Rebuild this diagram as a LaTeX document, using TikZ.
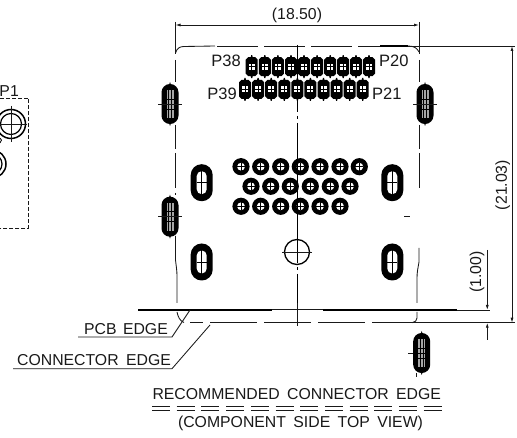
\documentclass[tikz,border=0pt]{standalone}
\usepackage{fontspec}
\setmainfont{Liberation Sans}
\usetikzlibrary{arrows.meta}
\tikzset{
  cadtext/.style={font=\fontsize{15.8}{18}\selectfont,inner sep=0pt,text=black!90},
  pintext/.style={font=\fontsize{16.5}{18}\selectfont,inner sep=0pt,text=black!90},
  thin line/.style={line width=0.85pt,black!90},
  thick edge/.style={line width=1.6pt},
  dim/.style={line width=0.8pt,black!90,{Latex[length=5pt,width=3pt]}-{Latex[length=5pt,width=3pt]}},
  outline/.style={line width=0.85pt,black!90,dash pattern=on 41pt off 6pt},
}
\newcommand{\smallslot}[2]{%
  \fill[black,rounded corners=8.4pt] (#1-8.5,#2-20) rectangle (#1+8.5,#2+20);
  \fill[black] (#1,#2-22) -- (#1+1,#2-19) -- (#1-1,#2-19) -- cycle (#1,#2+22) -- (#1+1,#2+19) -- (#1-1,#2+19) -- cycle;
  \fill[black!35] (#1-3.5,#2-14) rectangle (#1+3.5,#2+14);
  \draw[line width=0.8pt,black] (#1-1.4,#2-14) -- (#1-1.4,#2+14) (#1+1.4,#2-14) -- (#1+1.4,#2+14);
  \draw[line width=0.6pt,black] (#1-3.5,#2-5) -- (#1+3.5,#2-5) (#1-3.5,#2) -- (#1+3.5,#2) (#1-3.5,#2+5) -- (#1+3.5,#2+5);
}
\newcommand{\bigslot}[2]{%
  \fill[black,rounded corners=10.9pt] (#1-11,#2-18.5) rectangle (#1+11,#2+18.5);
  \fill[white,rounded corners=4.9pt] (#1-5,#2-11.5) rectangle (#1+5,#2+11.5);
  \draw[line width=0.8pt] (#1,#2-12) -- (#1,#2+12) (#1-5,#2) -- (#1+5,#2);
}
\newcommand{\pinpad}[2]{%
  \fill[black] (#1-1,#2-9.5) -- (#1-0.5,#2-11.5) -- (#1+0.5,#2-11.5) -- (#1+1,#2-9.5) -- (#1+3.5,#2-9.5) -- (#1+6,#2-7) -- (#1+6,#2+7) -- (#1+3.5,#2+9.5) -- (#1+1,#2+9.5) -- (#1+0.5,#2+11.5) -- (#1-0.5,#2+11.5) -- (#1-1,#2+9.5) -- (#1-3.5,#2+9.5) -- (#1-6,#2+7) -- (#1-6,#2-7) -- (#1-3.5,#2-9.5) -- cycle;
  \fill[white] (#1-3,#2-3) rectangle (#1+3,#2+3);
  \draw[line width=1pt,black] (#1,#2-3.2) -- (#1,#2+3.2) (#1-3.2,#2) -- (#1+3.2,#2);
}
\newcommand{\roundpad}[2]{%
  \fill[black] (#1,#2) circle[radius=8.6];
  \fill[white] (#1,#2) circle[radius=3.9];
  \draw[line width=1pt,black] (#1,#2-4) -- (#1,#2+4) (#1-4,#2) -- (#1+4,#2);
}
\begin{document}
\begin{tikzpicture}[x=1pt,y=-1pt]
\useasboundingbox (0,0) rectangle (517,438);
\fill[white] (0,0) rectangle (517,438);
% coordinates
\coordinate (pcbL) at (138,310);
\coordinate (pcbR) at (456.6,310);
% top dimension
\draw[thin line] (175.5,22) -- (175.5,54);
\draw[thin line] (419,22) -- (419,54);
\draw[dim] (175.5,25) -- (419,25);
\node[cadtext] (wlabel) at (297,15) {(18.50)};
% outline
\draw[thin line] (175.5,53) .. controls (177,48) and (180,46.5) .. (184,46.5) -- (215,46);
\draw[outline] (217,46) -- (380,46);
\draw[thick edge] (380,46) -- (408,46);
\draw[thin line] (408,46) .. controls (414,46) and (417,48) .. (419,52);
\draw[thin line] (408,46) -- (515,46);
\draw[thin line] (175.5,60) -- (175.5,82);
\draw[thin line,dash pattern=on 24pt off 4pt on 35pt off 5pt] (175.5,125) -- (175.5,195);
\draw[thin line] (175.5,236) -- (175.5,260) .. controls (176,265) and (177,270) .. (177,276) -- (177,303);
\draw[thin line] (419,60) -- (419,82);
\draw[thin line,dash pattern=on 24pt off 4pt on 35pt off 5pt] (419,125) -- (419,191);
\draw[thin line] (419,248) -- (419,262) .. controls (418,268) and (417,272) .. (417,278) -- (417,303);
\draw[thin line] (177,312) .. controls (178,317) and (180,321) .. (184,322.5);
\draw[thin line] (417,312) -- (417,318) .. controls (417,321) and (415,322) .. (412,322.7);
% centre line
\draw[line width=0.9pt,dash pattern=on 67pt off 4pt on 3pt off 4pt on 62pt off 4pt on 3pt off 4pt] (297,45) -- (297,325);
% pads
\foreach \x in {251.7,264.8,277.9,291,304,317.1,330.2,343.2,356,369}{\pinpad{\x}{66.7}}
\foreach \x in {245,258.1,271.2,284.3,297.4,310.4,323.5,336.6,349.7,362.7}{\pinpad{\x}{89.3}}
\foreach \x in {241,260.7,280.7,300.3,320,340,359.3}{\roundpad{\x}{166.7}}
\foreach \x in {251,270.7,290.3,310.3,330.3,350}{\roundpad{\x}{186.3}}
\foreach \x in {241,260.7,280.7,300.3,320,340}{\roundpad{\x}{206.3}}
\draw[line width=0.9pt] (297,150) -- (297,225);
% slots
\bigslot{201.7}{182.7}
\bigslot{392.3}{182.7}
\bigslot{201.7}{262}
\bigslot{392.3}{262}
\smallslot{170}{104}
\smallslot{425}{104}
\smallslot{170}{216.7}
\smallslot{421.7}{353}
\draw[thin line] (158,104) -- (182,104);
\draw[thin line] (413,104) -- (437,104);
\draw[thin line] (158,216.7) -- (182,216.7);
\draw[thin line] (408,353) -- (413,353);
\draw[thin line] (404,216.7) -- (410,216.7);
\draw[thin line] (416,373) -- (416,377);
% central hole
\draw[line width=1.3pt] (297,252) circle[radius=12.5];
\draw[thin line] (282,252) -- (312,252);
% text pin labels
\node[pintext,anchor=east] (p38) at (241,61) {P38};
\node[pintext,anchor=west] (p20) at (379,61) {P20};
\node[pintext,anchor=east] (p39) at (237,94) {P39};
\node[pintext,anchor=west] (p21) at (372,94) {P21};
% edges
\draw[thick edge] (pcbL) -- (272,310);
\draw[thick edge] (323,310) -- (pcbR);
\draw[line width=1pt,black!90] (272,310) -- (323,310);
\draw[thin line] (pcbR) -- (490,310);
\draw[line width=0.9pt,black!90] (190,322.7) -- (203,322.7);
\draw[line width=0.9pt,black!90,dash pattern=on 47pt off 7pt] (210,322.7) -- (416,322.7);
\draw[line width=1pt,black!90] (416,322.7) -- (515,322.7);
\draw[thin line] (297,303) -- (297,326);
% side dimensions
\draw[dim] (512,46) -- (512,322.7);
\node[cadtext,rotate=90] (hlabel) at (502.7,185) {(21.03)};
\draw[thin line,-{Latex[length=5pt,width=3pt]}] (487.3,250) -- (487.3,310);
\draw[thin line,-{Latex[length=5pt,width=3pt]}] (487.3,340) -- (487.3,322.7);
\node[cadtext,rotate=90] (olabel) at (477,272) {(1.00)};
% leaders
\node[cadtext] (pcbedge) at (126,329) {PCB\hspace{2pt} EDGE};
\node[cadtext] (connedge) at (94,360) {CONNECTOR\hspace{3pt} EDGE};
\draw[thin line] (78,337) -- (172,337) -- (190,310);
\draw[thin line] (13,368.7) -- (172,368.7) -- (210,325);
% bottom title
\node[cadtext] (title) at (296.7,394) {RECOMMENDED\hspace{3pt} CONNECTOR\hspace{3pt} EDGE};
\draw[thin line,dash pattern=on 18pt off 6.7pt] (152,406) -- (448,406);
\draw[thin line,dash pattern=on 18pt off 6.7pt] (152,410.7) -- (448,410.7);
\node[cadtext] (sub) at (300.5,423) {(COMPONENT\hspace{3pt} SIDE\hspace{3pt} TOP\hspace{3pt} VIEW)};
% left fragment
\node[cadtext,anchor=east] (pone) at (19,91) {P1};
\draw[line width=0.8pt,black!90,dash pattern=on 4pt off 2pt] (0,98) -- (28.7,98) -- (28.7,228) -- (0,228);
\draw[line width=1.5pt] (11,124) circle[radius=14.5];
\draw[line width=1.2pt] (11,124) circle[radius=10.5];
\draw[thin line] (11,106) -- (11,142) (-5,124) -- (27,124);
\draw[line width=1.5pt] (-8,164) circle[radius=14];
\draw[line width=1.2pt] (-8,164) circle[radius=10];
\draw[line width=0.8pt] (0,138) .. controls (2,139) and (2,141) .. (0,143);
\end{tikzpicture}
\end{document}
